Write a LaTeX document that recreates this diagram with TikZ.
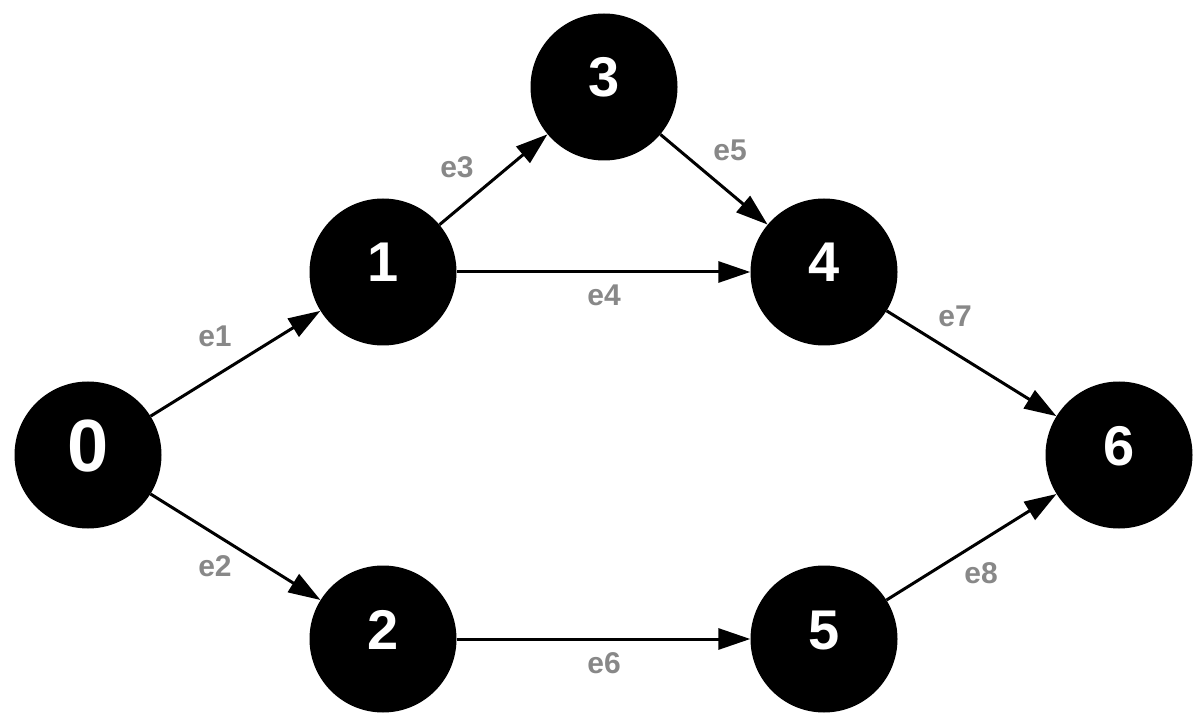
\documentclass[tikz,border=0pt]{standalone}
\usepackage{fontspec}
\setmainfont{Liberation Sans}
\usetikzlibrary{arrows.meta}
\definecolor{labgray}{HTML}{888888}
\newcommand{\vlab}[2][-10pt]{\smash{\raisebox{#1}{#2}}}
\begin{document}
\begin{tikzpicture}[x=1pt,y=-1pt,
  vertex/.style={circle,fill=black,minimum size=147pt,inner sep=0pt,text=white,
    font=\fontsize{56}{56}\selectfont\bfseries},
  edge/.style={line width=3pt,-{Triangle[length=32pt,width=21pt]}},
  elabel/.style={text=labgray,font=\fontsize{30}{30}\selectfont\bfseries,inner sep=0pt}]
\useasboundingbox (0,0) rectangle (1200,727);
\node[vertex,font=\fontsize{74}{74}\selectfont\bfseries] (n0) at (88,455) {\vlab[-16.5pt]{0}};
\node[vertex] (n1) at (383,272) {\vlab{1}};
\node[vertex] (n2) at (383,639) {\vlab{2}};
\node[vertex] (n3) at (604,87) {\vlab{3}};
\node[vertex] (n4) at (824,272) {\vlab{4}};
\node[vertex] (n5) at (824,639) {\vlab{5}};
\node[vertex] (n6) at (1119,455) {\vlab{6}};
\draw[edge] (n0) -- (n1);
\draw[edge] (n0) -- (n2);
\draw[edge] (n1) -- (n3);
\draw[edge] (n1) -- (n4);
\draw[edge] (n3) -- (n4);
\draw[edge] (n2) -- (n5);
\draw[edge] (n4) -- (n6);
\draw[edge] (n5) -- (n6);
\node[elabel] (l1) at (215,336) {e1};
\node[elabel] (l2) at (215,566) {e2};
\node[elabel] (l3) at (457,167) {e3};
\node[elabel] (l4) at (604,295) {e4};
\node[elabel] (l5) at (730,150) {e5};
\node[elabel] (l6) at (604,663) {e6};
\node[elabel] (l7) at (955,316) {e7};
\node[elabel] (l8) at (981,573) {e8};
\end{tikzpicture}
\end{document}
